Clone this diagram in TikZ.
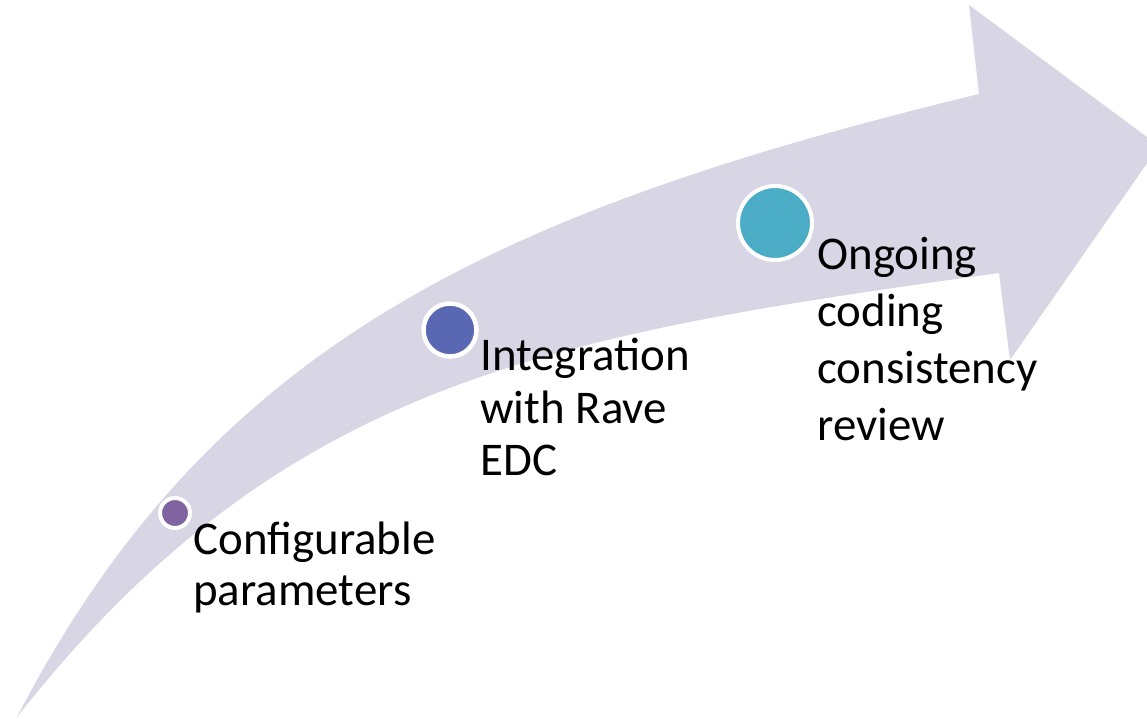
\documentclass[tikz,border=0pt]{standalone}
\usepackage{fontspec}
\setmainfont{Carlito}
\usepackage{tikz}

\definecolor{lavanda}{RGB}{216,213,228}
\definecolor{morado}{RGB}{128,100,162}
\definecolor{azul}{RGB}{90,103,178}
\definecolor{turquesa}{RGB}{75,172,198}

\tikzset{
  punto/.style={circle, draw=white, inner sep=0pt},
  etiqueta/.style={font=\fontsize{26.7}{#1}\selectfont, align=left, inner sep=0pt, anchor=base west}
}

\begin{document}
\begin{tikzpicture}[x=0.02cm, y=-0.02cm]
    \useasboundingbox (0,0) rectangle (1147,718);

    % Flecha curva
    \fill[lavanda] (17,717) .. controls (210,345) and (493,212) .. (979,94)
        -- (969,5) -- (1159,146) -- (1010,360) -- (999,273)
        .. controls (553,335) and (283,379) .. (17,717) -- cycle;

    % Puntos
    \node[punto, fill=morado, line width=0.08cm, minimum size=0.6cm] (p1) at (175,513) {};
    \node[punto, fill=azul, line width=0.09cm, minimum size=1.06cm] (p2) at (450,330) {};
    \node[punto, fill=turquesa, line width=0.08cm, minimum size=1.48cm] (p3) at (775,223) {};

    % Textos (anclados en la base de la ultima linea)
    \node[etiqueta=28.5] (t1) at (193,605) {Configurable\\parameters};
    \node[etiqueta=29.6] (t2) at (480,475) {Integration\\with Rave\\EDC};
    \node[etiqueta=32.4] (t3) at (817,440) {Ongoing\\coding\\consistency\\review};
\end{tikzpicture}
\end{document}
